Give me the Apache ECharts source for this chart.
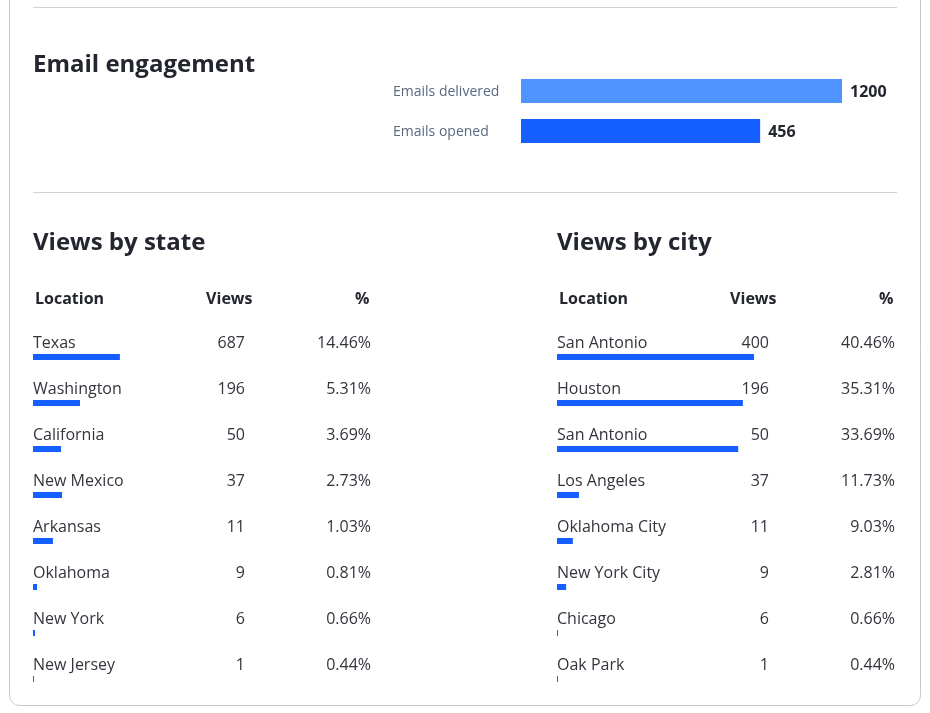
<!DOCTYPE html>
<html>
<head>
<meta charset="utf-8">
<title>Email engagement</title>
<script src="https://cdn.jsdelivr.net/npm/echarts@6/dist/echarts.min.js"></script>
<style>
html, body { margin: 0; padding: 0; background: #fff; }
#main { width: 930px; height: 713px; }
</style>
</head>
<body>
<div id="main"></div>
<script>
// email block: the printed counts, and the bar length as % of the longest bar
var emailNames = ['Emails delivered', 'Emails opened'];
var emailCounts = [1200, 456];
var emailBarShare = [100, 74.5];

// views by state
var stateNames = ['Texas', 'Washington', 'California', 'New Mexico', 'Arkansas', 'Oklahoma', 'New York', 'New Jersey'];
var stateViews = [687, 196, 50, 37, 11, 9, 6, 1];
var statePercents = ['14.46%', '5.31%', '3.69%', '2.73%', '1.03%', '0.81%', '0.66%', '0.44%'];
var stateBarShare = [25.7, 13.9, 8.3, 8.6, 5.9, 1.2, 0.6, 0.3];

// views by city
var cityNames = ['San Antonio', 'Houston', 'San Antonio', 'Los Angeles', 'Oklahoma City', 'New York City', 'Chicago', 'Oak Park'];
var cityViews = [400, 196, 50, 37, 11, 9, 6, 1];
var cityPercents = ['40.46%', '35.31%', '33.69%', '11.73%', '9.03%', '2.81%', '0.66%', '0.44%'];
var cityBarShare = [58.3, 55, 53.6, 6.5, 4.7, 2.7, 0.3, 0.3];

var FONT = '"Open Sans", "Noto Sans", sans-serif';
var DARK = '#23252f';
var BODY = '#33353d';
var BLUE = '#155eff';
var LIGHT_BLUE = '#5094ff';
var RULE = '#d2d2d2';

var e = echarts.init(document.getElementById('main'));

function extend(a, b) {
    for (var k in b) { a[k] = b[k]; }
    return a;
}

// one table = header texts + bar series + text row drawn over it
function headerTexts(x) {
    var style = { fontFamily: FONT, fontSize: 16, fontWeight: 'bold', fill: DARK, textVerticalAlign: 'middle' };
    return [
        { type: 'text', x: x + 2, y: 299, silent: true, style: extend({ text: 'Location', textAlign: 'left' }, style) },
        { type: 'text', x: x + 219.5, y: 299, silent: true, style: extend({ text: 'Views', textAlign: 'right' }, style) },
        { type: 'text', x: x + 336.5, y: 299, silent: true, style: extend({ text: '%', textAlign: 'right' }, style) }
    ];
}

function tableSeries(gridIndex, names, views, percents, shares) {
    var rows = names.map(function (n, i) { return [0, i]; });
    return [
        {
            type: 'bar',
            xAxisIndex: gridIndex,
            yAxisIndex: gridIndex,
            barWidth: 6,
            silent: true,
            itemStyle: { color: BLUE },
            data: shares
        },
        {
            type: 'custom',
            xAxisIndex: gridIndex,
            yAxisIndex: gridIndex,
            silent: true,
            encode: { x: 0, y: 1 },
            data: rows,
            renderItem: function (params, api) {
                var i = params.dataIndex;
                var p = api.coord([0, i]);
                var y = p[1] - 14;
                var base = { fontFamily: FONT, fontSize: 16, fill: BODY, textVerticalAlign: 'middle' };
                return {
                    type: 'group',
                    children: [
                        { type: 'text', x: p[0], y: y, style: extend({ text: names[i], textAlign: 'left' }, base) },
                        { type: 'text', x: p[0] + 212, y: y, style: extend({ text: String(views[i]), textAlign: 'right' }, base) },
                        { type: 'text', x: p[0] + 338, y: y, style: extend({ text: percents[i], textAlign: 'right' }, base) }
                    ]
                };
            }
        }
    ];
}

function titleAt(text, x, y) {
    return {
        text: text,
        left: x,
        top: y,
        padding: 0,
        textStyle: { fontFamily: FONT, fontSize: 24, fontWeight: 'bold', color: DARK, lineHeight: 32 }
    };
}

function hiddenValueAxis(gridIndex) {
    return { type: 'value', gridIndex: gridIndex, min: 0, max: 100, show: false };
}

function hiddenCategoryAxis(gridIndex, names) {
    return { type: 'category', gridIndex: gridIndex, inverse: true, data: names, show: false };
}

function rule(y) {
    return { type: 'line', silent: true, shape: { x1: 33, y1: y, x2: 897, y2: y }, style: { stroke: RULE, lineWidth: 1 } };
}

var option = {
    animation: false,
    backgroundColor: '#fff',
    textStyle: { fontFamily: FONT },
    title: [
        titleAt('Email engagement', 33, 49),
        titleAt('Views by state', 33, 227),
        titleAt('Views by city', 557, 227)
    ],
    grid: [
        { left: 521, top: 71, width: 321, height: 80 },
        { left: 33, top: 334, width: 338, height: 368 },
        { left: 557, top: 334, width: 338, height: 368 }
    ],
    xAxis: [hiddenValueAxis(0), hiddenValueAxis(1), hiddenValueAxis(2)],
    yAxis: [
        {
            type: 'category',
            gridIndex: 0,
            inverse: true,
            data: emailNames,
            axisLine: { show: false },
            axisTick: { show: false },
            axisLabel: {
                align: 'left',
                margin: 128,
                formatter: '{n|{value}}',
                rich: { n: { padding: [2, 0, 0, 0], fontFamily: FONT, fontSize: 14, color: '#5b6880' } }
            }
        },
        hiddenCategoryAxis(1, stateNames),
        hiddenCategoryAxis(2, cityNames)
    ],
    series: [
        {
            type: 'bar',
            xAxisIndex: 0,
            yAxisIndex: 0,
            barWidth: 24,
            silent: true,
            data: emailBarShare.map(function (v, i) {
                return { value: v, itemStyle: { color: i == 0 ? LIGHT_BLUE : BLUE } };
            }),
            label: {
                show: true,
                position: 'right',
                distance: 8,
                offset: [0, 1],
                fontFamily: FONT,
                fontSize: 16,
                fontWeight: 'bold',
                color: DARK,
                formatter: function (p) { return emailCounts[p.dataIndex]; }
            }
        }
    ].concat(
        tableSeries(1, stateNames, stateViews, statePercents, stateBarShare),
        tableSeries(2, cityNames, cityViews, cityPercents, cityBarShare)
    ),
    graphic: [
        {
            type: 'rect',
            silent: true,
            shape: { x: 9.5, y: -30, width: 911, height: 735.5, r: 10 },
            style: { fill: 'transparent', stroke: '#c9c9c9', lineWidth: 1 }
        },
        rule(7.5),
        rule(192.5)
    ].concat(headerTexts(33), headerTexts(557))
};

e.setOption(option);
</script>
</body>
</html>
